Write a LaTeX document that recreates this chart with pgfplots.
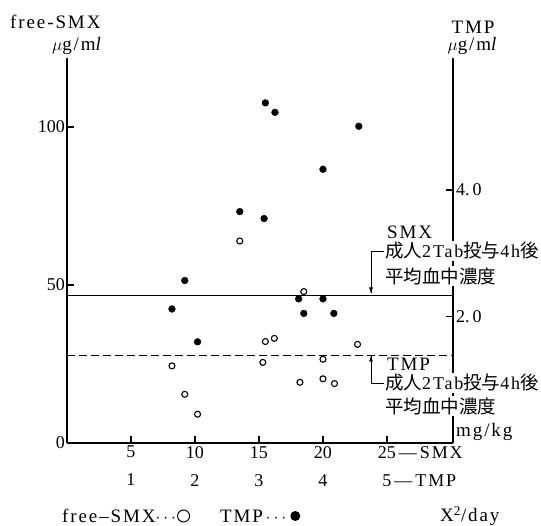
\documentclass[border=0pt]{standalone}
\usepackage{fontspec}
\setmainfont{Liberation Serif}
\newfontfamily\spc[LetterSpace=10]{Liberation Serif}
\newfontfamily\jp{Noto Sans CJK JP}
\usepackage{pgfplots}
\pgfplotsset{compat=1.18}
\usetikzlibrary{arrows.meta}
\newcommand{\lab}{\spc\fontsize{19}{22}\selectfont}
\newcommand{\tk}{\fontsize{18}{20}\selectfont}
\newcommand{\jtxt}{\fontsize{18.5}{21}\selectfont}
\newcommand{\lt}{\spc\fontsize{18}{20}\selectfont}

\begin{document}
\begin{tikzpicture}
\path[use as bounding box] (-67pt,-83pt) rectangle (474pt,443pt);
% ---------- free-SMX axis (left, bottom) ----------
\begin{axis}[
  at={(0pt,0pt)}, anchor=south west,
  scale only axis, width=386pt, height=385pt,
  xmin=0, xmax=30.16, ymin=0, ymax=121.8,
  axis x line*=bottom, axis y line*=left,
  axis line style={line width=1.4pt, -},
  xtick={5,10,15,20,25},
  xticklabels={{5\\[8pt]1},{10\\[8pt]2},{15\\[8pt]3},{20\\[8pt]4},{25\rlap{\,—\,{\spc SMX}}\\[8pt]5\rlap{\,—\,{\spc TMP}}}},
  ytick={0,50,100}, yticklabels={0,50,100},
  xtick align=inside, ytick align=inside,
  major tick length=7pt,
  xtick style={draw=black, line width=1.3pt},
  ytick style={draw=black, line width=1.3pt},
  ticklabel style={font=\tk},
  xticklabel style={align=center, anchor=north, inner sep=2pt, yshift=-1pt},
  yticklabel style={anchor=east, inner sep=2pt},
  clip=false,
]
\addplot[black, line width=1pt] coordinates {(0,46.8) (30.16,46.8)};
\addplot[only marks, mark=o, mark size=3pt, black, mark options={line width=1.1pt, fill=white}] table {
x y
8.2 24.4
9.2 15.4
10.2 9.1
13.5 63.9
15.3 25.5
15.5 32.1
16.2 33.1
18.2 19.2
18.5 47.9
20.0 26.5
20.0 20.3
20.9 18.8
22.7 31.2
};
% tick marks (inside)
\draw[line width=1.3pt] (axis cs:5,0) -- ++(0pt,7pt);
\draw[line width=1.3pt] (axis cs:10,0) -- ++(0pt,7pt);
\draw[line width=1.3pt] (axis cs:15,0) -- ++(0pt,7pt);
\draw[line width=1.3pt] (axis cs:20,0) -- ++(0pt,7pt);
\draw[line width=1.3pt] (axis cs:25,0) -- ++(0pt,7pt);
\draw[line width=1.3pt] (axis cs:0,50) -- ++(7pt,0pt);
\draw[line width=1.3pt] (axis cs:0,100) -- ++(7pt,0pt);
\end{axis}
% ---------- TMP axis (right) ----------
\begin{axis}[
  at={(0pt,0pt)}, anchor=south west,
  scale only axis, width=386pt, height=385pt,
  xmin=0, xmax=6.032, ymin=0, ymax=6.09,
  axis x line=none, axis y line*=right,
  axis line style={line width=1.4pt, -},
  xtick=\empty,
  ytick={2,4}, yticklabels={2.\hspace{3pt}0,4.\hspace{3pt}0},
  ytick align=inside, major tick length=7pt,
  ytick style={draw=black, line width=1.3pt},
  yticklabel style={anchor=west, inner sep=3pt, font=\tk},
  clip=false,
]
\addplot[black, line width=1pt, dash pattern=on 8pt off 4pt] coordinates {(0,1.39) (6.032,1.39)};
\addplot[only marks, mark=*, mark size=3.4pt, black] table {
x y
1.64 2.12
1.84 2.57
2.04 1.60
2.70 3.66
3.08 3.55
3.10 5.38
3.25 5.23
3.62 2.28
3.70 2.05
4.00 4.33
4.00 2.28
4.17 2.05
4.56 5.01
};
\draw[line width=1.3pt] (axis cs:6.032,2) -- ++(-7pt,0pt);
\draw[line width=1.3pt] (axis cs:6.032,4) -- ++(-7pt,0pt);
\end{axis}
\begin{scope}[x=1pt,y=1pt]
% ---------- axis titles ----------
\node[anchor=west, font=\lab, inner sep=0pt] at (-57,421) {free-SMX};
\node[anchor=east, font=\lab, inner sep=0pt] at (36,397) {$\mu$g/m\textit{l}};
\node[font=\lab, inner sep=0pt] at (406,416) {TMP};
\node[font=\lab, inner sep=0pt] at (406,397) {$\mu$g/m\textit{l}};
\node[anchor=west, font=\lab, inner sep=1pt] at (388,11) {mg/kg};
% ---------- SMX annotation ----------
\node[anchor=west, font=\lab, inner sep=1pt] at (319,211) {SMX};
\node[anchor=west, font=\jtxt, fill=white, inner sep=1pt] at (317,192) {{\jp 成人}{\lt 2Tab}{\jp 投与}{\lt 4h}{\jp 後}};
\node[anchor=west, font=\jtxt, fill=white, inner sep=1pt] at (317,167) {\jp 平均血中濃度};
\draw[line width=0.8pt] (317,192) -- (304,192) -- (304,149.5);
\draw[line width=0.8pt, -{Latex[length=6pt,width=4pt]}] (304,160) -- (304,149.5);
% ---------- TMP annotation ----------
\node[anchor=west, font=\lab, inner sep=1pt] at (319,79) {TMP};
\node[anchor=west, font=\jtxt, fill=white, inner sep=1pt] at (317,60) {{\jp 成人}{\lt 2Tab}{\jp 投与}{\lt 4h}{\jp 後}};
\node[anchor=west, font=\jtxt, fill=white, inner sep=1pt] at (317,37) {\jp 平均血中濃度};
\draw[line width=0.8pt] (317,60) -- (304,60) -- (304,87.5);
\draw[line width=0.8pt, -{Latex[length=6pt,width=4pt]}] (304,76) -- (304,87.5);
% ---------- legend row ----------
\node[anchor=west, font=\lab, inner sep=0pt] (l1) at (-5,-73) {free–SMX$\cdots$};
\draw[line width=1pt] ([xshift=7.5pt]l1.east) circle (6pt);
\node[anchor=west, font=\lab, inner sep=0pt] (l2) at (153,-73) {TMP$\,\cdots$};
\fill ([xshift=9pt]l2.east) circle (5pt);
\node[anchor=west, font=\lab, inner sep=0pt] at (373,-73) {X\textsuperscript{2}/day};
\end{scope}
\end{tikzpicture}
\end{document}
